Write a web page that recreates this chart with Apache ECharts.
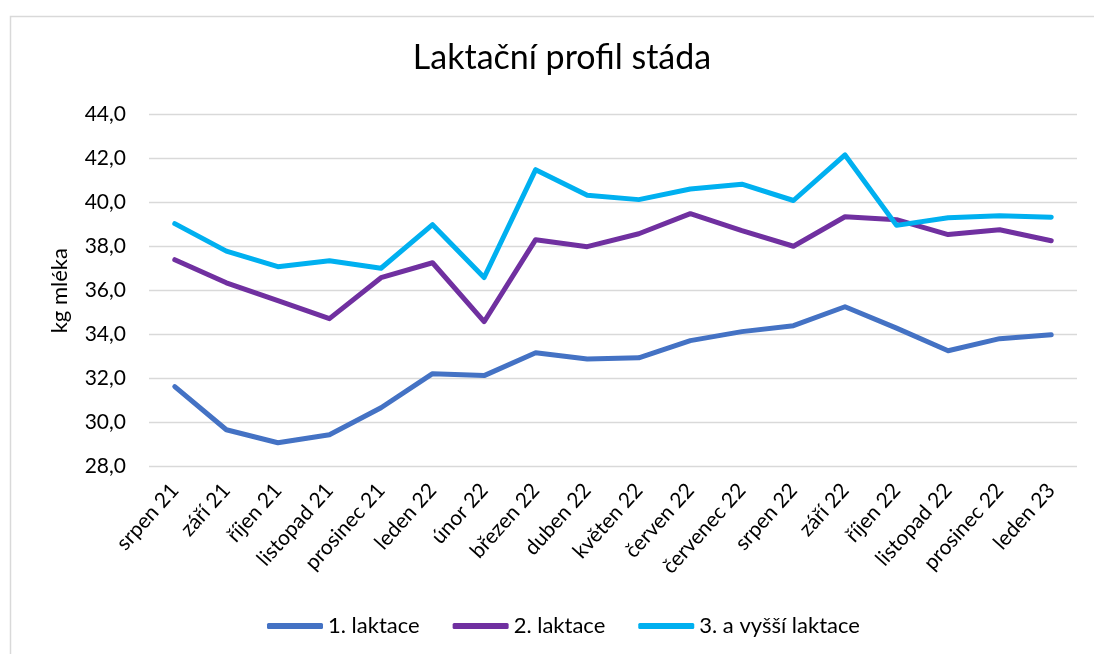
<!DOCTYPE html>
<html>
<head>
<meta charset="utf-8">
<script src="https://cdn.jsdelivr.net/npm/echarts@6/dist/echarts.min.js"></script>
<style>
  html, body { margin: 0; padding: 0; background: #fff; }
  #main { width: 1094px; height: 654px; }
</style>
</head>
<body>
<div id="main"></div>
<script>
const months = ['srpen 21', 'září 21', 'říjen 21', 'listopad 21', 'prosinec 21', 'leden 22',
    'únor 22', 'březen 22', 'duben 22', 'květen 22', 'červen 22', 'červenec 22',
    'srpen 22', 'září 22', 'říjen 22', 'listopad 22', 'prosinec 22', 'leden 23']

const laktace1 = [31.64, 29.68, 29.09, 29.45, 30.68, 32.23, 32.14, 33.18, 32.9, 32.95,
    33.73, 34.14, 34.41, 35.27, 34.3, 33.27, 33.82, 34.0]
const laktace2 = [37.41, 36.36, 35.55, 34.73, 36.59, 37.27, 34.59, 38.32, 38.0, 38.59,
    39.5, 38.73, 38.02, 39.36, 39.23, 38.55, 38.77, 38.27]
const laktace3 = [39.05, 37.8, 37.09, 37.36, 37.02, 39.0, 36.6, 41.5, 40.34, 40.14,
    40.62, 40.84, 40.1, 42.17, 38.97, 39.32, 39.41, 39.34]

const seriesNames = ['1. laktace', '2. laktace', '3. a vyšší laktace']
const seriesColors = ['#4472C4', '#7030A0', '#00B0F0']

const FONT = 'Lato, "Noto Sans", sans-serif'

function main() {
    const chart = echarts.init(document.getElementById('main'))

    const series = [laktace1, laktace2, laktace3].map((values, i) => ({
        name: seriesNames[i],
        type: 'line',
        data: values,
        symbol: 'none',
        smooth: false,
        color: seriesColors[i],
        lineStyle: { width: 5, color: seriesColors[i], cap: 'round', join: 'round' }
    }))

    const option = {
        animation: false,
        backgroundColor: '#fff',
        textStyle: { fontFamily: FONT },
        graphic: [{
            type: 'rect',
            z: -1,
            shape: { x: 10.5, y: 16.5, width: 1200, height: 800 },
            style: { fill: 'none', stroke: '#d9d9d9', lineWidth: 1.5 }
        }],
        title: {
            text: 'Laktační profil stáda',
            left: 557,
            top: 36,
            textAlign: 'center',
            textStyle: { fontFamily: FONT, fontSize: 34, fontWeight: 'normal', color: '#000' }
        },
        legend: {
            data: seriesNames,
            left: 262,
            top: 608,
            icon: 'roundRect',
            itemWidth: 56,
            itemHeight: 6,
            itemGap: 33,
            textStyle: { fontFamily: FONT, fontSize: 22, color: '#000', lineHeight: 26 }
        },
        grid: { left: 149, right: 17, top: 114.7, bottom: 187.3, containLabel: false },
        xAxis: {
            type: 'category',
            data: months,
            boundaryGap: true,
            axisLine: { show: false },
            axisTick: { show: false },
            axisLabel: { rotate: 48, margin: 20, interval: 0, fontFamily: FONT, fontSize: 21, color: '#000' }
        },
        yAxis: {
            type: 'value',
            min: 28,
            max: 44,
            interval: 2,
            name: 'kg mléka',
            nameLocation: 'middle',
            nameRotate: 90,
            nameGap: 78,
            nameTextStyle: { fontFamily: FONT, fontSize: 22, color: '#000' },
            axisLine: { show: false },
            axisTick: { show: false },
            splitLine: { lineStyle: { color: '#d9d9d9', width: 1.3 } },
            axisLabel: {
                margin: 23,
                fontFamily: FONT,
                fontSize: 21,
                color: '#000',
                formatter: v => v.toFixed(1).replace('.', ',')
            }
        },
        series
    }
    chart.setOption(option)
}

window.addEventListener('load', () => {
    main()
})
</script>
</body>
</html>
